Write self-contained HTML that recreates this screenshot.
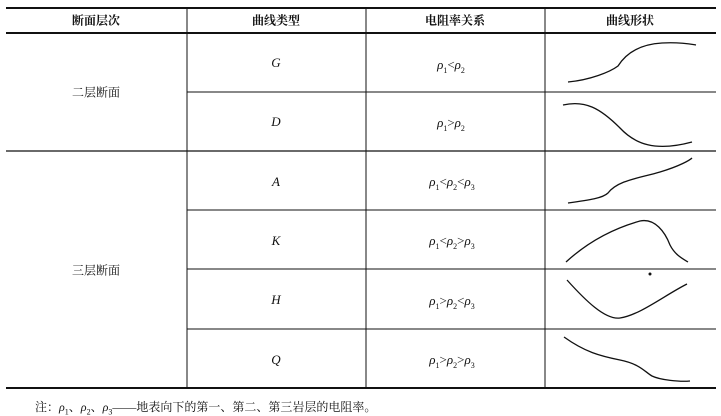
<!DOCTYPE html>
<html><head><meta charset="utf-8"><style>
body{margin:0;background:#fff;width:721px;height:415px;overflow:hidden;position:relative;font-family:"Liberation Serif","Noto Serif CJK SC",serif;color:#111}
.t{position:absolute;transform:translate(-50%,-50%);font-size:12px;white-space:nowrap}
.h{font-weight:bold}
.i{font-style:italic;font-size:13px}
.r{font-size:13px}
sub{font-size:8px}
</style></head><body>
<svg width="721" height="415" style="position:absolute;left:0;top:0">
<g stroke="#111" fill="none">
<line x1="6" y1="8" x2="716" y2="8" stroke-width="2"/>
<line x1="6" y1="33" x2="716" y2="33" stroke-width="2"/>
<line x1="187" y1="92" x2="716" y2="92" stroke-width="1"/>
<line x1="6" y1="151" x2="716" y2="151" stroke-width="1.3"/>
<line x1="187" y1="210" x2="716" y2="210"/>
<line x1="187" y1="269" x2="716" y2="269"/>
<line x1="187" y1="329" x2="716" y2="329"/>
<line x1="6" y1="388" x2="716" y2="388" stroke-width="2"/>
<line x1="187" y1="8" x2="187" y2="388"/>
<line x1="366" y1="8" x2="366" y2="388"/>
<line x1="545" y1="8" x2="545" y2="388"/>
<g stroke-width="1.3">
<path d="M568,82 C590,80 610,72 618,66 C628,50 645,44 662,43 C680,42 690,44 696,45"/>
<path d="M563,105 C585,100 600,108 620,128 C635,144 655,152 692,142"/>
<path d="M568,203 C590,200 603,198 608,193 C618,180 640,178 660,172 C680,166 690,160 692,158"/>
<path d="M566,262 C590,240 615,228 640,221 C655,218 665,232 670,245 C675,255 683,259 688,262"/>
<path d="M567,280 C585,300 605,320 620,318 C640,315 665,295 687,284"/>
<path d="M564,337 C585,352 600,356 620,360 C640,364 645,372 652,376 C660,380 680,382 690,381"/>
</g>
<circle cx="650" cy="274" r="1" fill="#111"/>
</g></svg>
<div class="t h" style="left:96px;top:20px">断面层次</div>
<div class="t h" style="left:276px;top:20px">曲线类型</div>
<div class="t h" style="left:455px;top:20px">电阻率关系</div>
<div class="t h" style="left:630px;top:20px">曲线形状</div>
<div class="t" style="left:96px;top:92px">二层断面</div>
<div class="t" style="left:96px;top:270px">三层断面</div>
<div class="t i" style="left:276px;top:63px">G</div>
<div class="t i" style="left:276px;top:122px">D</div>
<div class="t i" style="left:276px;top:182px">A</div>
<div class="t i" style="left:276px;top:241px">K</div>
<div class="t i" style="left:276px;top:300px">H</div>
<div class="t i" style="left:276px;top:360px">Q</div>
<div class="t r" style="left:451px;top:66px"><i>ρ</i><sub>1</sub>&lt;<i>ρ</i><sub>2</sub></div>
<div class="t r" style="left:451px;top:124px"><i>ρ</i><sub>1</sub>&gt;<i>ρ</i><sub>2</sub></div>
<div class="t r" style="left:452px;top:183px"><i>ρ</i><sub>1</sub>&lt;<i>ρ</i><sub>2</sub>&lt;<i>ρ</i><sub>3</sub></div>
<div class="t r" style="left:452px;top:242px"><i>ρ</i><sub>1</sub>&lt;<i>ρ</i><sub>2</sub>&gt;<i>ρ</i><sub>3</sub></div>
<div class="t r" style="left:452px;top:302px"><i>ρ</i><sub>1</sub>&gt;<i>ρ</i><sub>2</sub>&lt;<i>ρ</i><sub>3</sub></div>
<div class="t r" style="left:452px;top:361px"><i>ρ</i><sub>1</sub>&gt;<i>ρ</i><sub>2</sub>&gt;<i>ρ</i><sub>3</sub></div>
<div style="position:absolute;left:35px;top:398px;font-size:12px;white-space:nowrap">注：<i>ρ</i><sub>1</sub>、<i>ρ</i><sub>2</sub>、<i>ρ</i><sub>3</sub>——地表向下的第一、第二、第三岩层的电阻率。</div>
</body></html>
